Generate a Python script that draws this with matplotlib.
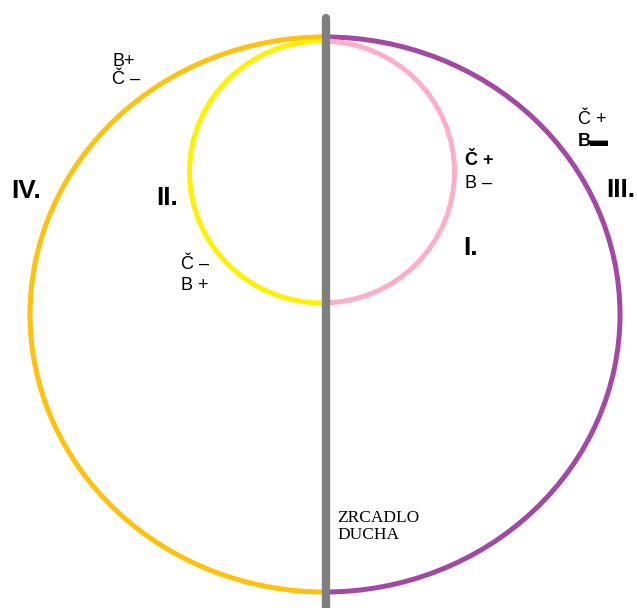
import matplotlib
matplotlib.use('Agg')
import matplotlib.pyplot as plt
from matplotlib.patches import Arc

# roman numerals of the four fields
quarter_names = ['I.', 'II.', 'III.', 'IV.']
# small sign labels (line 1, line 2)
signs_outer_left = ['B+', 'Č –']
signs_inner_left = ['Č –', 'B +']
signs_inner_right = ['Č +', 'B –']
signs_outer_right = ['Č +', 'B▬']
mirror_text = 'ZRCADLO\nDUCHA'

ORANGE = '#FFC20E'
PURPLE = '#A349A4'
YELLOW = '#FFF200'
PINK = '#FFAEC9'
GRAY = '#7F7F7F'

fig = plt.figure(figsize=(6.37, 6.08), dpi=100)
ax = fig.add_axes([0, 0, 1, 1])
ax.set_xlim(0, 637)
ax.set_ylim(608, 0)
ax.axis('off')

lw = 3.6
# outer circle: left orange, right purple
ax.add_patch(Arc((325, 314.5), 590, 555, theta1=90, theta2=270, color=ORANGE, lw=lw))
ax.add_patch(Arc((325, 314.5), 590, 555, theta1=-90, theta2=90, color=PURPLE, lw=lw))
# inner circle: left yellow, right pink
ax.add_patch(Arc((322, 172), 265, 262, theta1=90, theta2=270, color=YELLOW, lw=lw))
ax.add_patch(Arc((322, 172), 265, 262, theta1=-90, theta2=90, color=PINK, lw=lw))

# the mirror
ax.plot([325.5, 325.5], [18, 620], color=GRAY, lw=6, solid_capstyle='round')

big = dict(fontsize=19, fontweight='bold', family='Liberation Sans', va='top', ha='left')
ax.text(463, 236, quarter_names[0], **big)
ax.text(156, 186, quarter_names[1], **big)
ax.text(606, 178, quarter_names[2], **big)
ax.text(11, 179, quarter_names[3], **big)

sm = dict(fontsize=13, family=['Liberation Sans', 'DejaVu Sans'], va='top', ha='left')
ax.text(112, 53, signs_outer_left[0], **sm)
ax.text(112, 71, signs_outer_left[1], **sm)
ax.text(181, 256, signs_inner_left[0], **sm)
ax.text(181, 277, signs_inner_left[1], **sm)
ax.text(465, 152, signs_inner_right[0], fontweight='bold', **sm)
ax.text(465, 175, signs_inner_right[1], **sm)
ax.text(578, 111, signs_outer_right[0], **sm)
ax.text(578, 133, signs_outer_right[1], fontweight='bold', **sm)

ax.text(337, 510, mirror_text, fontsize=12.5, family='Liberation Serif',
        va='top', ha='left', linespacing=1.05)

fig.savefig('out.png', dpi=100)
